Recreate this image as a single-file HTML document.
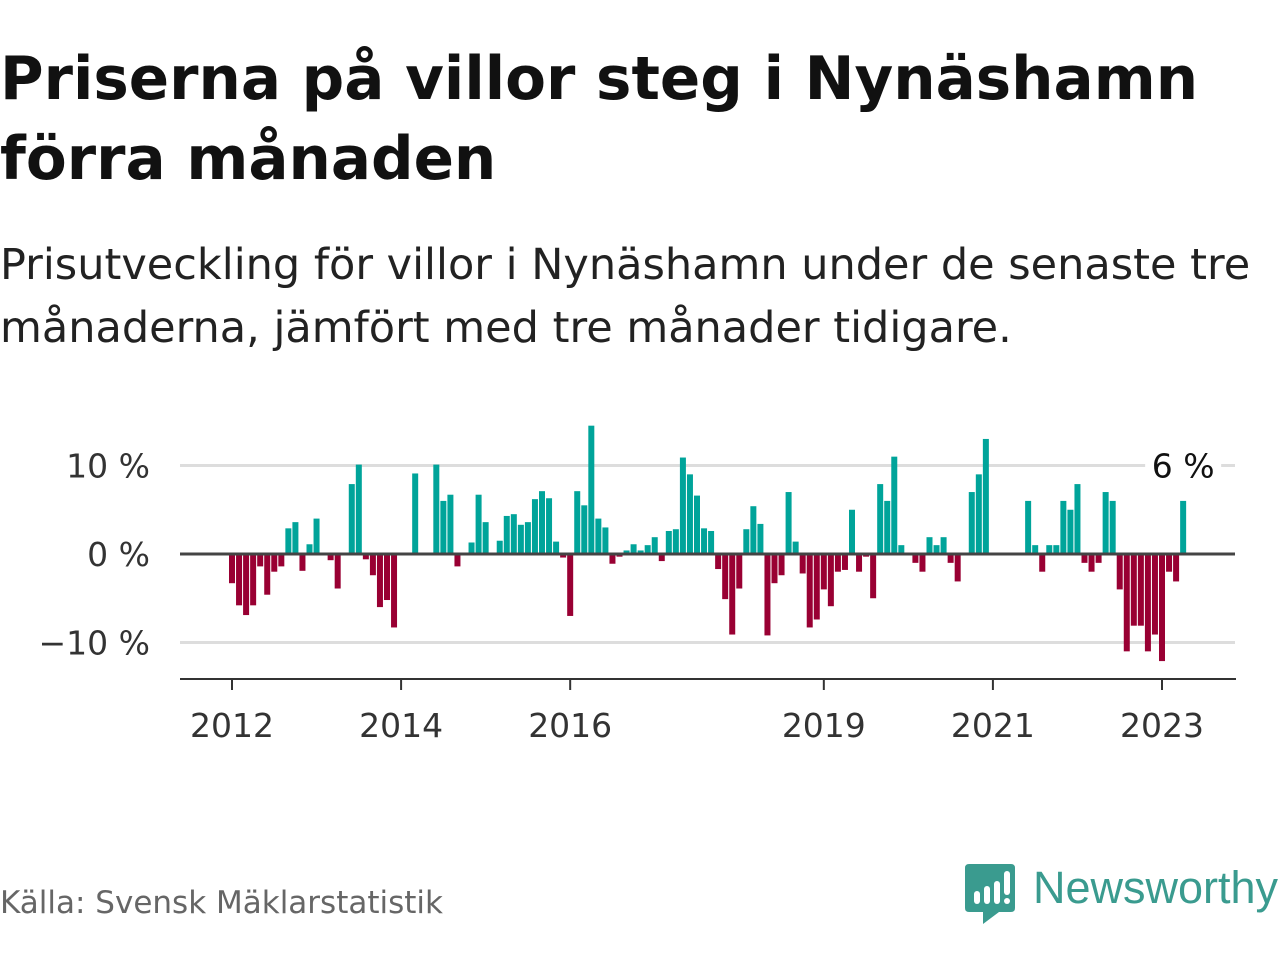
<!DOCTYPE html>
<html><head><meta charset="utf-8">
<style>
body{margin:0;width:1280px;height:960px;background:#fff;font-family:"DejaVu Sans","Liberation Sans",sans-serif;overflow:hidden;position:relative}
.t{position:absolute;left:0;white-space:nowrap}
</style></head><body>
<div class="t" style="top:40px;font-size:59.5px;font-weight:bold;color:#111;line-height:80px">Priserna på villor steg i Nynäshamn<br>förra månaden</div>
<div class="t" style="top:234px;font-size:43px;color:#222;line-height:63px">Prisutveckling för villor i Nynäshamn under de senaste tre<br>månaderna, jämfört med tre månader tidigare.</div>
<svg id="chart" width="1280" height="960" style="position:absolute;left:0;top:0"></svg>
<div class="t" style="top:885px;font-size:31px;color:#666">Källa: Svensk Mäklarstatistik</div>
<svg width="52" height="62" style="position:absolute;left:965px;top:864px">
<path d="M4 0H46Q50 0 50 4V44Q50 48 46 48H34L18 60V48H4Q0 48 0 44V4Q0 0 4 0Z" fill="#3a9b8f"/>
<rect x="9" y="27" width="6" height="13" rx="3" fill="#fff"/><rect x="19" y="22" width="6" height="18" rx="3" fill="#fff"/><rect x="29" y="17" width="6" height="23" rx="3" fill="#fff"/><rect x="39" y="7" width="6" height="24" rx="3" fill="#fff"/><circle cx="42" cy="37" r="3" fill="#fff"/></svg>
<div class="t" style="left:1033px;top:862px;font-size:45px;color:#3a9b8f;font-family:'Liberation Sans',sans-serif">Newsworthy</div>
<script>
const values=[-3.3,-5.8,-6.9,-5.8,-1.4,-4.6,-2.0,-1.4,2.9,3.6,-1.9,1.1,4.0,null,-0.7,-3.9,null,7.9,10.1,-0.6,-2.4,-6.0,-5.2,-8.3,null,null,9.1,null,null,10.1,6.0,6.7,-1.4,null,1.3,6.7,3.6,null,1.5,4.3,4.5,3.3,3.6,6.2,7.1,6.3,1.4,-0.4,-7.0,7.1,5.5,14.5,4.0,3.0,-1.1,-0.3,0.4,1.1,0.4,1.0,1.9,-0.8,2.6,2.8,10.9,9.0,6.6,2.9,2.6,-1.7,-5.1,-9.1,-3.9,2.8,5.4,3.4,-9.2,-3.3,-2.4,7.0,1.4,-2.2,-8.3,-7.4,-4.0,-5.9,-2.0,-1.8,5.0,-2.0,-0.3,-5.0,7.9,6.0,11.0,1.0,null,-1.0,-2.0,1.9,1.0,1.9,-1.0,-3.1,null,7.0,9.0,13.0,null,null,null,null,null,6.0,1.0,-2.0,1.0,1.0,6.0,5.0,7.9,-1.0,-2.0,-1.0,7.0,6.0,-4.0,-11.0,-8.1,-8.1,-11.0,-9.1,-12.1,-2.0,-3.1,6.0];
const yTicks=[10,0,-10];
const yTickLabels=["10 %","0 %","−10 %"];
const xTickYears=[2012,2014,2016,2019,2021,2023];
const startYear=2012;
const lastLabel="6 %";
const svg=document.getElementById('chart');
const NS='http://www.w3.org/2000/svg';
const FONT='DejaVu Sans, Liberation Sans, sans-serif';
const xM=i=>232+i*(1162-232)/132;
const y=v=>554-v*8.85;
function mk(t,a){const e=document.createElementNS(NS,t);for(const k in a)e.setAttribute(k,a[k]);svg.appendChild(e);return e;}
yTicks.forEach((v,k)=>{
 const g=mk('line',{x1:180,x2:1235,y1:y(v),y2:y(v),stroke:v===0?'#444':'#ddd','stroke-width':3});
 
 
 const t=mk('text',{x:150,y:y(v)+12,'text-anchor':'end','font-size':33,fill:'#333','font-family':FONT});
 t.textContent=yTickLabels[k];
 
 
});
values.forEach((v,i)=>{
 if(v===null)return;
 const r=mk('rect',{x:xM(i)-3,width:6,y:v>=0?y(v):y(0),height:Math.abs(y(v)-y(0)),fill:v>=0?'#00a49a':'#990033'});
 
 
});
const zl=mk('line',{x1:180,x2:1235,y1:y(0),y2:y(0),stroke:'#444','stroke-width':3});


const ax=mk('line',{x1:180,x2:1236,y1:679,y2:679,stroke:'#333','stroke-width':2});


xTickYears.forEach(yr=>{
 const x=xM((yr-startYear)*12);
 const tk=mk('line',{x1:x,x2:x,y1:679,y2:690,stroke:'#333','stroke-width':2});
 
 
 const t=mk('text',{x:x,y:737,'text-anchor':'middle','font-size':33,fill:'#333','font-family':FONT});
 t.textContent=yr;
 
 
});
const lx=xM(values.length-1);
const bg=mk('rect',{x:lx-38,y:y(10)-20,width:76,height:36,fill:'#fff'});


const lt=mk('text',{x:lx,y:y(10)+12,'text-anchor':'middle','font-size':33,fill:'#111','font-family':FONT});
lt.textContent=lastLabel;


</script>
</body></html>
